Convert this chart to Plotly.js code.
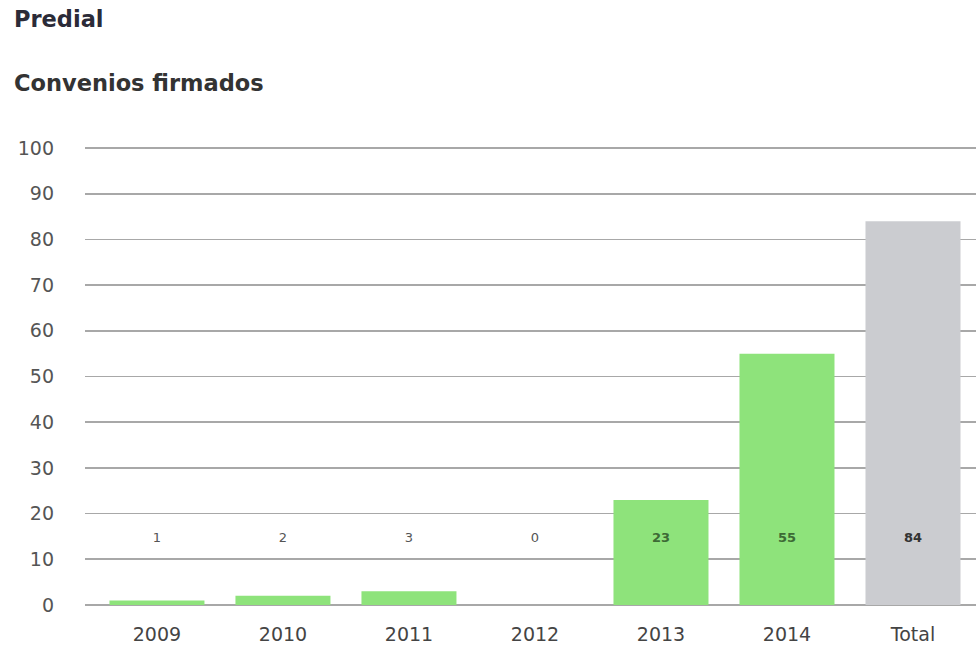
<!DOCTYPE html>
<html><head><meta charset="utf-8">
<script src="https://cdn.plot.ly/plotly-3.0.1.min.js"></script>
<style>html,body{margin:0;padding:0;background:#fff;}#chart{width:976px;height:651px;}</style>
</head><body><div id="chart"></div>
<script>
const categories = ["2009","2010","2011","2012","2013","2014","Total"];
const values = [1,2,3,0,23,55,84];
const barColors = ["#8ee37b","#8ee37b","#8ee37b","#8ee37b","#8ee37b","#8ee37b","#cbccd0"];
const labelColors = ["#555555","#555555","#555555","#555555","#3d6a35","#3d6a35","#333333"];
const labelBold = [false,false,false,false,true,true,true];
const labelY = 14.6;
const FONT = "DejaVu Sans, sans-serif";

const bars = {
  type: "bar", x: categories, y: values,
  marker: {color: barColors}, hoverinfo: "skip", showlegend: false
};
const labels = {
  type: "scatter", mode: "text", x: categories, y: categories.map(() => labelY),
  text: values.map((v, i) => labelBold[i] ? "<b>" + v + "</b>" : String(v)),
  textfont: {family: FONT, size: 13, color: labelColors},
  textposition: "middle center", hoverinfo: "skip", showlegend: false
};

const layout = {
  width: 976, height: 651,
  margin: {l: 85, r: 0, t: 146, b: 46},
  paper_bgcolor: "#ffffff", plot_bgcolor: "#ffffff",
  bargap: 0.246,
  font: {family: FONT, color: "#555"},
  xaxis: {
    type: "category", range: [-0.571, 6.5], showgrid: false, zeroline: false,
    showline: false, ticks: "", tickfont: {size: 19, color: "#444"}, ticklabelstandoff: 16
  },
  yaxis: {
    range: [0, 100.44], tickvals: [0,10,20,30,40,50,60,70,80,90,100], showgrid: true, gridcolor: "#a8a8a8", gridwidth: 1.6,
    zeroline: true, zerolinecolor: "#a8a8a8", zerolinewidth: 1.6, showline: false,
    tickfont: {size: 19, color: "#555"}, ticklabelstandoff: 30, fixedrange: true
  },
  annotations: [
    {text: "<b>Predial</b>", xref: "paper", yref: "paper", x: -0.082, xanchor: "left",
     y: 1.276, yanchor: "middle", showarrow: false, font: {family: FONT, size: 22.5, color: "#2b2b38"}},
    {text: "<b>Convenios firmados</b>", xref: "paper", yref: "paper", x: -0.082, xanchor: "left",
     y: 1.138, yanchor: "middle", showarrow: false, font: {family: FONT, size: 22.5, color: "#333"}}
  ]
};
Plotly.newPlot("chart", [bars, labels], layout, {displayModeBar: false, staticPlot: true});
</script></body></html>
